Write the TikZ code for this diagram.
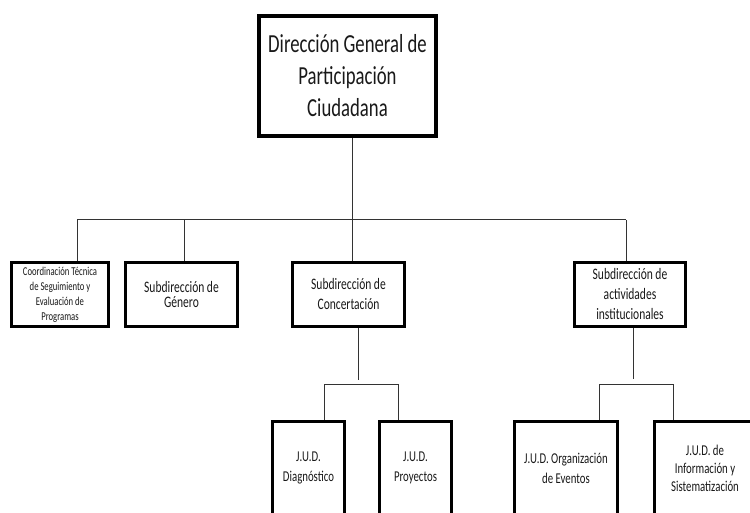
\documentclass[tikz,border=0pt]{standalone}
\usepackage{fontspec}
\setmainfont[FakeStretch=0.72]{Carlito}
\begin{document}
\begin{tikzpicture}[x=1pt,y=-1pt,
  box/.style={draw, line width=3pt, inner sep=0pt, align=center, text=black!90},
  conn/.style={draw, line width=1pt, black!80}]
\clip (0,0) rectangle (750,513);
\fill[white] (0,0) rectangle (750,513);
% top
\node[box, line width=4pt, minimum width=177pt, minimum height=120pt,
  font=\fontsize{26}{32}\selectfont] (top) at (347.5,76)
  {Dirección General de\\Participación\\Ciudadana};
% second level
\node[box, minimum width=97pt, minimum height=64pt,
  font=\fontsize{12}{15}\selectfont] (b1) at (60,294.5)
  {Coordinación Técnica\\de Seguimiento y\\Evaluación de\\Programas};
\node[box, minimum width=112pt, minimum height=64pt,
  font=\fontsize{16}{15}\selectfont] (b2) at (181.5,294.5)
  {\rule{0pt}{8pt}Subdirección de\\Género};
\node[box, minimum width=112pt, minimum height=64pt,
  font=\fontsize{16}{20}\selectfont] (b3) at (348.5,294.5)
  {Subdirección de\\Concertación};
\node[box, minimum width=111pt, minimum height=64pt,
  font=\fontsize{16}{20}\selectfont] (b4) at (630,294.5)
  {Subdirección de\\actividades\\institucionales};
% third level
\node[box, minimum width=72pt, minimum height=93pt,
  font=\fontsize{15}{20}\selectfont] (d1) at (308.5,468)
  {J.U.D.\\Diagnóstico};
\node[box, minimum width=72pt, minimum height=93pt,
  font=\fontsize{15}{20}\selectfont] (d2) at (415.5,468)
  {J.U.D.\\Proyectos};
\node[box, minimum width=103pt, minimum height=93pt,
  font=\fontsize{15}{20}\selectfont] (d3) at (566,468)
  {J.U.D. Organización\\de Eventos};
\node[box, minimum width=101pt, minimum height=93pt,
  font=\fontsize{15}{18}\selectfont] (d4) at (705,468)
  {J.U.D. de\\Información y\\Sistematización};
% bus coordinates
\coordinate (bus) at (352,220);
\coordinate (k1) at (77,220);
\coordinate (k2) at (184,220);
\coordinate (k4) at (626,220);
\draw[conn] (top.south -| bus) -- (bus);
\draw[conn] (k1) -- (k4);
\draw[conn] (k1) -- (k1 |- b1.north);
\draw[conn] (k2) -- (k2 |- b2.north);
\draw[conn] (bus) -- (bus |- b3.north);
\draw[conn] (k4) -- (k4 |- b4.north);
% lower left
\coordinate (s3) at (358,380);
\coordinate (h1) at (324,384);
\coordinate (h2) at (398,384);
\draw[conn] (b3.south -| s3) -- (s3);
\draw[conn] (h1) -- (h2);
\draw[conn] (h1) -- (h1 |- d1.north);
\draw[conn] (h2) -- (h2 |- d2.north);
% lower right
\coordinate (s4) at (633,379);
\coordinate (h3) at (599,384);
\coordinate (h4) at (673,384);
\draw[conn] (b4.south -| s4) -- (s4);
\draw[conn] (h3) -- (h4);
\draw[conn] (h3) -- (h3 |- d3.north);
\draw[conn] (h4) -- (h4 |- d4.north);
\end{tikzpicture}
\end{document}
